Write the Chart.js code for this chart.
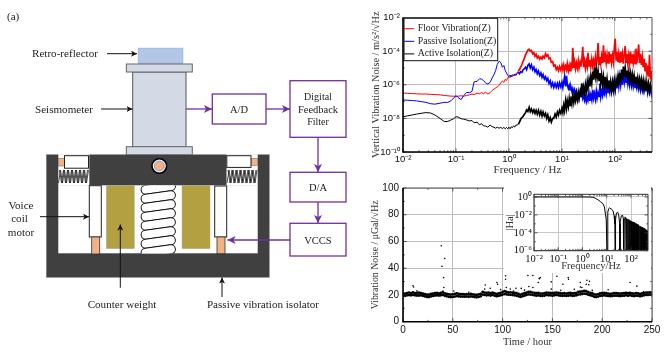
<!DOCTYPE html>
<html><head><meta charset="utf-8">
<script src="https://cdn.jsdelivr.net/npm/chart.js@4"></script>
<style>
html,body{margin:0;padding:0;background:#fff;overflow:hidden}
#stage{position:absolute;left:0;top:0;width:665px;height:357px;filter:blur(0.35px)}
canvas{position:absolute;display:block}
svg{position:absolute;left:0;top:0}
svg text{font-family:"Liberation Serif",serif;fill:#222}
</style></head><body>
<div id="stage">
<svg width="665" height="357" viewBox="0 0 665 357">
<defs>
<marker id="ak" markerWidth="7" markerHeight="7" refX="6" refY="3" orient="auto" markerUnits="userSpaceOnUse"><path d="M0,0 L6,3 L0,6 L1.5,3 Z" fill="#111"/></marker>
<marker id="ap" markerWidth="9" markerHeight="9" refX="8" refY="4" orient="auto" markerUnits="userSpaceOnUse"><path d="M0,0 L8,4 L0,8 L2,4 Z" fill="#7030a0"/></marker>
<clipPath id="coilclip"><rect x="138" y="185.5" width="40" height="68"/></clipPath>
</defs>
<text x="7" y="20" font-size="11">(a)</text>
<text x="357" y="20" font-size="11">(b)</text>
<text x="360" y="190" font-size="11">(c)</text>
<rect x="138.3" y="48.3" width="44.5" height="15" fill="#b3c6e7" stroke="#9db8e0"/>
<rect x="132.7" y="72" width="53.3" height="75" fill="#d3dae6" stroke="#555" stroke-width="1"/>
<rect x="126.3" y="64" width="66" height="8" fill="#d3dae6" stroke="#666"/>
<rect x="126.3" y="146.7" width="66" height="8" fill="#d3dae6" stroke="#666"/>
<rect x="46.3" y="154.7" width="223" height="122.6" fill="#404040" stroke="#888" stroke-width=".6"/>
<rect x="58.3" y="185.3" width="199.4" height="68" fill="#fff"/>
<rect x="58.3" y="154.2" width="31" height="31.5" fill="#fff"/>
<rect x="226.5" y="154.2" width="31.2" height="31.5" fill="#fff"/>
<rect x="58.3" y="158.3" width="6.3" height="7.7" fill="#f4b183" stroke="#666" stroke-width=".5"/>
<rect x="64.5" y="155.7" width="24" height="12.5" fill="#fff" stroke="#222"/>
<rect x="251" y="158.3" width="6.7" height="7.3" fill="#f4b183" stroke="#666" stroke-width=".5"/>
<rect x="226.8" y="155.7" width="24.2" height="11.7" fill="#fff" stroke="#222"/>
<g fill="none" stroke="#222" stroke-width=".8">
<path d="M58.5,183 L60.5,170 L62.5,183 L64.5,170 L66.5,183 L68.5,170 L70.5,183 L72.5,170 L74.5,183 L76.5,170 L78.5,183 L80.5,170 L82.5,183 L84.5,170 L86.5,183 L88.5,170"/>
<path d="M59.5,170 L61.5,183 L63.5,170 L65.5,183 L67.5,170 L69.5,183 L71.5,170 L73.5,183 L75.5,170 L77.5,183 L79.5,170 L81.5,183 L83.5,170 L85.5,183 L87.5,170"/>
<path d="M227,183 L229,170 L231,183 L233,170 L235,183 L237,170 L239,183 L241,170 L243,183 L245,170 L247,183 L249,170 L251,183 L253,170 L255,183 L257,170"/>
<path d="M228,170 L230,183 L232,170 L234,183 L236,170 L238,183 L240,170 L242,183 L244,170 L246,183 L248,170 L250,183 L252,170 L254,183 L256,170"/>
</g>
<rect x="106.3" y="185.3" width="28" height="63.4" fill="#b3a040" stroke="#aaa" stroke-width=".5"/>
<rect x="182" y="185.3" width="28" height="63.4" fill="#b3a040" stroke="#aaa" stroke-width=".5"/>
<g clip-path="url(#coilclip)" fill="#fff" stroke="#111" stroke-width="1">
<rect x="141" y="183.5" width="34.5" height="9" rx="4.5" transform="rotate(-8 158 188)"/>
<rect x="141" y="192.5" width="34.5" height="9" rx="4.5" transform="rotate(-8 158 197)"/>
<rect x="141" y="201.5" width="34.5" height="9" rx="4.5" transform="rotate(-8 158 206)"/>
<rect x="141" y="210.5" width="34.5" height="9" rx="4.5" transform="rotate(-8 158 215)"/>
<rect x="141" y="219.5" width="34.5" height="9" rx="4.5" transform="rotate(-8 158 224)"/>
<rect x="141" y="228.5" width="34.5" height="9" rx="4.5" transform="rotate(-8 158 233)"/>
<rect x="141" y="237.5" width="34.5" height="9" rx="4.5" transform="rotate(-8 158 242)"/>
<rect x="141" y="246.5" width="34.5" height="9" rx="4.5" transform="rotate(-8 158 251)"/>
</g>
<rect x="89.3" y="185.7" width="12" height="51.3" fill="#fff" stroke="#222" stroke-width="1"/>
<rect x="91.7" y="237" width="8" height="17" fill="#f4b183" stroke="#333" stroke-width=".8"/>
<rect x="214.7" y="186" width="12" height="51" fill="#fff" stroke="#222" stroke-width="1"/>
<rect x="217" y="237" width="8" height="16.7" fill="#f4b183" stroke="#333" stroke-width=".8"/>
<circle cx="159.3" cy="166" r="7.3" fill="#fff" stroke="#000" stroke-width="1.6"/>
<circle cx="159.3" cy="166" r="5" fill="#f4b183" stroke="#6f8fc8" stroke-width=".8"/>
<g fill="#fff" stroke="#7030a0" stroke-width="1.3">
<rect x="212.3" y="94" width="53.7" height="30"/>
<rect x="290" y="80.7" width="56" height="56.6"/>
<rect x="290" y="172.3" width="56" height="29.7"/>
<rect x="290" y="223.3" width="56" height="32.7"/>
</g>
<g fill="none" stroke="#7030a0" stroke-width="1.3" marker-end="url(#ap)">
<path d="M186,109 H212"/><path d="M266,109 H290"/><path d="M318,137.3 V172"/><path d="M318,202 V223"/><path d="M290,240 H227.5"/>
</g>
<g fill="none" stroke="#111" stroke-width="1" marker-end="url(#ak)">
<path d="M107,53.7 H137"/><path d="M101,109 H132.5"/><path d="M40,216.7 H89"/><path d="M120.3,287.7 V224.5"/><path d="M222,297 V277.5"/>
</g>
<g font-size="11.1">
<text x="32" y="56.5">Retro-reflector</text>
<text x="35" y="113">Seismometer</text>
<text x="21" y="209" text-anchor="middle">Voice</text>
<text x="19.5" y="222" text-anchor="middle">coil</text>
<text x="21" y="236" text-anchor="middle">motor</text>
<text x="122" y="308" text-anchor="middle">Counter weight</text>
<text x="263" y="308" text-anchor="middle">Passive vibration isolator</text>
<text x="239" y="113" text-anchor="middle" font-size="10.5">A/D</text>
<text x="318" y="100" text-anchor="middle" font-size="10">Digital</text>
<text x="318" y="113" text-anchor="middle" font-size="10.5">Feedback</text>
<text x="318" y="125" text-anchor="middle" font-size="10">Filter</text>
<text x="318" y="191" text-anchor="middle" font-size="10.5">D/A</text>
<text x="318" y="244" text-anchor="middle" font-size="10.5">VCCS</text>
</g>
</svg>
<canvas id="pb" width="315" height="178" style="left:350px;top:0"></canvas>
<canvas id="pc" width="315" height="179" style="left:350px;top:178px"></canvas>
<canvas id="pi" width="147" height="87" style="left:504px;top:186px"></canvas>
</div>
<script>
const freq=[
0.01,0.012,0.015,0.018,0.022,0.027,0.033,0.04,0.05,0.06,
0.07,0.08,0.09,0.1,0.11,0.125,0.14,0.16,0.18,0.2,
0.22,0.25,0.28,0.3,0.33,0.36,0.4,0.44,0.48,0.52,
0.56,0.6,0.65,0.7,0.75,0.8,0.85,0.9,0.95,1,
1.05,1.1,1.16,1.22,1.28,1.35,1.42,1.5,1.58,1.66,
1.75,1.84,1.94,2.05,2.15,2.27,2.4,2.52,2.65,2.8,
2.95,3.1,3.25,3.42,3.6,3.8,4,4.2,4.4,4.65,
4.9,5.15,5.4,5.7,6,6.3,6.65,7,7.4,7.8,
8.2,8.6,9,9.5,10,10.4,10.8,11.2,11.7,12.2,
12.6,13.2,13.7,14.2,14.8,15.4,16,16.7,17.3,18,
18.7,19.5,20.3,21,22,22.8,23.7,24.7,25.6,26.7,
27.7,28.8,30,31,32.4,33.7,35,36.5,38,39.4,
41,42.7,44.4,46,48,50,52,54,56,58.4,
60.7,63,65.7,68.3,71,74,77,80,83,86.3,
90,93.4,97,101,105,109,114,118,123,128,
133,138,144,150,156,162,168,175,182,189,
197,205,213,221,230,239,249,259,269,280,
291,303,315,328,341,354,369,383,399,415,
431,449,467,486,500];
const floorVibration=[
3.2e-7,3.1e-7,3e-7,2.9e-7,2.8e-7,2.8e-7,2.7e-7,2.6e-7,2.5e-7,2.3e-7,
2.2e-7,2.1e-7,2.1e-7,2e-7,2.1e-7,2.2e-7,2.1e-7,2.3e-7,2.5e-7,2.8e-7,
2.6e-7,3.2e-7,2.8e-7,3.5e-7,2.9e-7,3.6e-7,2.8e-7,3.4e-7,4.5e-7,5.5e-7,
6.5e-7,7.5e-7,9e-7,1.3e-6,1.7e-6,1.4e-6,2.1e-6,1.8e-6,2.7e-6,3e-6,
2.6e-6,3.6e-6,3e-6,4e-6,3.4e-6,4.6e-6,5e-6,6.5e-6,8e-6,1.1e-5,
1.6e-5,2.4e-5,3.6e-5,6e-5,8e-5,1.15e-4,1.3e-4,1e-4,1.1e-4,7e-5,
8e-5,5e-5,6.5e-5,4e-5,5e-5,3.4e-5,4.5e-5,3.5e-5,5e-5,4e-5,
7e-5,5e-5,6e-5,3.5e-5,3.8e-5,2.2e-5,2.4e-5,1.3e-5,1.5e-5,8e-6,
1.1e-5,7e-6,1.2e-5,7.5e-6,1.4e-5,7.5e-6,1.5e-5,8e-6,1.3e-5,8e-6,
1.8e-5,7e-6,1.4e-5,7e-6,2.2e-5,9e-6,1.6e-4,1e-5,2.2e-5,9e-6,
2e-5,1e-5,2.6e-5,1e-5,2.2e-5,1.2e-5,3e-5,1.8e-4,1.1e-5,2.6e-5,
1e-5,2.5e-5,1.2e-5,8e-5,1.3e-5,3e-5,1.2e-5,3.5e-5,1.3e-5,2.8e-5,
1.4e-5,4.5e-5,1.5e-5,3.2e-5,3e-4,1.6e-5,4.5e-5,1.8e-5,5e-5,2e-5,
2.2e-4,2.2e-5,5.5e-5,2e-5,6e-5,2e-5,9e-5,2.2e-5,7e-5,2e-5,
5.5e-5,2.4e-5,1.4e-4,5.5e-4,3e-5,9e-5,2.2e-5,6.5e-5,2e-5,9e-5,
2.2e-5,6.5e-5,1.8e-5,7e-5,2e-4,2.2e-5,7e-5,1.8e-5,5.5e-5,2e-5,
9e-5,1.8e-5,6.5e-5,2e-5,5.5e-5,1.8e-5,1.4e-4,2e-5,6.5e-5,2.5e-4,
2e-5,7e-5,1.5e-5,4.5e-5,1.1e-5,3.5e-5,7e-6,2e-5,5e-6,1.4e-5,
3e-6,6e-5,2e-6,7e-6,1.4e-6];
const passiveIsolation=[
1.25e-7,1.2e-7,1.15e-7,1.1e-7,1e-7,9e-8,7.5e-8,7e-8,8e-8,9e-8,
9e-8,1.1e-7,1.6e-7,2.3e-7,1.7e-7,1.3e-7,2.3e-7,3.5e-7,3.4e-7,4e-7,
1.5e-6,1.6e-6,2.3e-6,2.2e-6,1.8e-6,1.3e-6,1.1e-6,1.4e-6,2.5e-6,4e-6,
7e-6,1.6e-5,2.5e-5,2.1e-5,1.1e-5,1.4e-5,7e-6,5e-6,3.5e-6,3e-6,
3.8e-6,3e-6,4e-6,3.4e-6,4.4e-6,3.6e-6,4.5e-6,5.5e-6,4.5e-6,6e-6,
5.5e-6,7.5e-6,9e-6,1.1e-5,8e-6,1.4e-5,1.7e-5,1e-5,1.5e-5,8e-6,
1.1e-5,6e-6,8e-6,4.5e-6,6.5e-6,3.5e-6,5e-6,2.8e-6,4e-6,2.2e-6,
3e-6,1.8e-6,2.4e-6,1.2e-6,1.7e-6,8e-7,1.3e-6,7e-7,1.2e-6,7e-7,
1.2e-6,7e-7,1.3e-6,7.5e-7,1.4e-6,7e-7,1.5e-6,3e-6,8e-7,3.4e-6,
1e-6,6e-7,9e-7,5e-7,7e-7,4e-7,6e-7,3.5e-7,5e-7,2.5e-7,
4e-7,2e-7,3e-7,1.5e-7,3.5e-7,1.8e-7,4e-7,1.6e-7,2.5e-7,1.2e-7,
2e-7,1e-7,1.8e-7,1.2e-7,3e-7,1.1e-7,2.5e-7,1.3e-7,5e-7,1.6e-7,
3e-7,1.4e-7,4e-7,1.6e-7,3.5e-7,2e-7,1.2e-6,2e-7,4e-7,2.2e-7,
5e-7,3e-7,7e-7,3e-7,8e-7,3.5e-7,9e-7,4e-7,1e-6,4e-7,
1.2e-6,4e-7,1.5e-6,5e-7,1.3e-6,6e-7,2e-6,8e-7,3e-6,1e-6,
3.5e-6,1e-6,4e-6,1.5e-6,5e-6,1.4e-6,4e-6,1.2e-6,3e-6,1e-6,
2.5e-6,9e-7,2e-6,8e-7,1.8e-6,7e-7,1.6e-6,7e-7,1.5e-6,6e-7,
1.3e-6,5e-7,1.2e-6,5e-7,1.1e-6,4.5e-7,1e-6,4e-7,9e-7,3.5e-7,
8e-7,3.5e-7,7e-7,3e-7,6e-7];
const activeIsolation=[
1.25e-8,1.4e-8,1.6e-8,1.8e-8,2e-8,2.2e-8,2.1e-8,1.6e-8,1e-8,6.5e-9,
6.5e-9,8e-9,9.5e-9,1.25e-8,1.2e-8,9.5e-9,9e-9,8e-9,7e-9,7.5e-9,
5.5e-9,6e-9,4e-9,5e-9,3.6e-9,3.5e-9,3e-9,4e-9,3.2e-9,3e-9,
2.6e-9,3e-9,2.6e-9,2.9e-9,2.5e-9,2.9e-9,2.4e-9,2.9e-9,2.4e-9,3e-9,
2.4e-9,3.2e-9,2.8e-9,3.6e-9,3e-9,4e-9,4e-9,4.5e-9,6e-9,9e-9,
1.1e-8,1.3e-8,1.7e-8,2.2e-8,3.2e-8,2.6e-8,4.5e-8,2.5e-8,3.6e-8,2.2e-8,
3.2e-8,2e-8,3e-8,1.8e-8,3e-8,1.6e-8,2.6e-8,1.4e-8,2.4e-8,1.4e-8,
2e-8,1e-8,1.6e-8,7e-9,1.1e-8,6e-9,1e-8,1e-8,1.8e-8,1.2e-8,
2.4e-8,1.6e-8,3e-8,2e-8,4e-8,2.2e-8,6e-8,3e-8,1.1e-7,4e-8,
1.1e-7,5e-8,1.5e-7,6e-8,2e-7,8e-8,2.5e-7,9e-8,2e-7,1.1e-7,
3e-7,1.3e-7,3.5e-7,1.6e-7,4e-7,2e-7,1.2e-6,2.5e-7,7e-7,3e-7,
1e-6,4e-7,1.5e-6,6e-7,2e-6,8e-7,3e-6,1.2e-6,6e-6,2e-6,
1.1e-5,3e-6,8e-6,2.5e-6,7e-6,1.8e-6,5e-6,1.4e-6,4e-6,1e-6,
3e-6,9e-7,3e-6,7e-7,2.2e-6,6e-7,1.8e-6,6e-7,1.5e-6,5e-7,
1.4e-6,5e-7,1.6e-6,6e-7,2e-6,8e-7,3e-6,1e-6,5e-6,1.4e-6,
8e-6,2e-6,1.2e-5,3e-6,1e-5,3e-6,7e-6,2.5e-6,6e-6,2e-6,
5e-6,1.6e-6,4e-6,1.5e-6,3.5e-6,1.2e-6,3e-6,1.1e-6,2.6e-6,1e-6,
2.2e-6,8e-7,2e-6,7e-7,1.8e-6,6e-7,1.5e-6,5e-7,1.3e-6,5e-7,
1.2e-6,4.5e-7,1e-6,4.5e-7,9e-7];
const seriesNames=['Floor Vibration(Z)','Passive Isolation(Z)','Active Isolation(Z)'];
const decadeTicks=[0.01,0.1,1,10,100];
const decadeTickLabels=['10\u207b\u00b2','10\u207b\u00b9','10\u2070','10\u00b9','10\u00b2'];
const psdTicks=[1e-10,1e-8,1e-6,1e-4,1e-2];
const psdTickLabels=['10\u207b\u00b9\u2070','10\u207b\u2078','10\u207b\u2076','10\u207b\u2074','10\u207b\u00b2'];

const hours=[
0,2,4,6,8,10,12,14,16,18,20,22,24,26,28,30,32,34,36,38,
40,42,44,46,48,50,52,54,56,58,60,62,64,66,68,70,72,74,76,78,
80,82,84,86,88,90,92,94,96,98,100,102,104,106,108,110,112,114,116,118,
120,122,124,126,128,130,132,134,136,138,140,142,144,146,148,150,152,154,156,158,
160,162,164,166,168,170,172,174,176,178,180,182,184,186,188,190,192,194,196,198,
200,202,204,206,208,210,212,214,216,218,220,222,224,226,228,230,232,234,236,238,
240,242,244,246,248,250];
const noiseHigh=[
20.8,21,21.4,21.8,21.4,21.9,21.4,21.6,21.7,21.4,21,20.6,20.2,20.2,20.7,21,21.3,21.5,21.2,21.6,
21.9,21.2,20.8,20.4,20.3,20.5,20.8,21.2,20.7,20.6,20.6,20.4,20.6,20.4,20.8,20.4,20.2,20,20.4,20.8,
22.2,21.8,21.5,21.8,21.3,21.8,21.2,20.8,21.2,21.6,22.3,22.8,22.3,22,22,21.7,21.5,21.3,20.8,20.2,
20.8,21.3,21.8,22.2,22.2,21.8,21.6,21.3,21.6,21,21,21.3,21.8,21.6,21.5,21.3,21.6,21.8,21.5,21.3,
21.2,21.3,21,21.3,21.5,21.2,21.3,21.6,22.2,22.4,22.6,23,22.8,22.1,21.6,21.3,20.4,20.2,20.6,21.2,
21.3,21.6,21.3,21,20.8,21,21.3,21.3,21.2,21,21.2,21.3,21.5,21.3,21.5,21.2,21,21.3,21.2,20.8,
21.2,21.6,21.8,21.8,22,21.6];
const noiseLow=[
19.2,19.4,19.7,19.9,19.8,20,19.8,19.6,19.6,19.7,19.4,18.9,18.5,18.4,18.9,19.3,19.6,19.8,19.6,19.8,
20,19.4,19,18.6,18.4,18.5,18.8,19.2,18.9,18.8,18.8,18.7,18.8,18.6,18.9,18.7,18.4,18.2,18.6,19,
20.2,20,19.7,19.9,19.6,20,19.5,19.1,19.4,19.8,20.3,20.7,20.4,20.2,20.1,19.9,19.7,19.5,19,18.5,
19,19.5,20,20.4,20.3,20,19.8,19.5,19.7,19.3,19.3,19.5,20,19.8,19.7,19.5,19.8,20,19.7,19.5,
19.4,19.5,19.3,19.5,19.7,19.4,19.5,19.8,20.3,20.5,20.7,21,20.8,20.2,19.8,19.4,18.6,18.4,18.8,19.4,
19.5,19.8,19.5,19.3,19.1,19.2,19.5,19.5,19.4,19.2,19.4,19.5,19.7,19.5,19.7,19.4,19.2,19.5,19.4,19,
19.4,19.8,20,20,20.2,19.8];
const outlierHours=[10,10.7,38.5,39.1,41.8,40.8,41,40.2,51,82.6,82,87.6,94.3,95,103,103,103.7,107.7,111,113.4,118.7,125.4,130.4,126.4,130.4,136.8,135.8,137.8,148.8,148.8,154.5,160.5,165.9,166.2,178,178,179.6,184.6,187.2,184,186.5,206,228,234.8,241.5,158.5,14,66,98,122,172,190];
const outlierNoise=[26.8,26,56.8,41.5,47.3,33,25.6,23,23,27.5,24.4,25,29.3,28,34.4,31.7,25.6,24.4,23,25,24.9,34.6,34.6,26.3,25.6,32.2,29.3,33,29.8,24.4,34,28,33,31.7,29.3,26,25.6,31,30.2,28,27.6,23.9,29.3,26.6,22.4,23.5,23.2,22,24,23.6,24.2,23.4];
const timeTicks=[0,50,100,150,200,250];
const noiseTicks=[0,20,40,60,80,100];

const haFreq=[0.01,0.1,1,2,2.6,3.2,4.3,5.5,6.9,8,8.8,9.5,10.3,
11,12,13,15,18,20,21.5,22,23,25,28,31,34,35,36,40,45,48,50,
52,56,60,62,66,70,74,78,82,86,90,94,98,102,
106,110,115,120,125,130,135,140,145,150,155,160,165,170,175,180,185,190,195,200,
210,220,230,240,250,260,270,280,290,300,310,320,330,340,350,360,370,380,390,400,
410,420,430,440,450,460,470,480,490,500];
const haGain=[1,1,1,0.98,0.92,0.8,0.5,0.3,0.18,0.08,0.012,0.003,1e-7,
0.02,0.05,0.06,0.048,0.03,0.008,0.001,1e-7,0.003,0.016,0.02,0.01,0.001,1e-7,0.002,0.008,0.0089,0.004,1e-7,
0.003,0.006,0.005,1e-7,0.004,1e-7,0.0034,1e-7,0.003,1e-7,0.0025,1e-7,0.0021,1e-7,
0.0019,1e-7,0.0017,1e-7,0.0015,1e-7,0.0014,1e-7,0.0012,1e-7,0.0011,1e-7,0.001,1e-7,0.00092,1e-7,0.00085,1e-7,0.00078,1e-7,
0.00067,1e-7,0.00058,1e-7,0.00051,1e-7,0.00045,1e-7,0.0004,1e-7,0.00036,1e-7,0.00033,1e-7,0.0003,1e-7,0.00027,1e-7,0.00025,1e-7,
0.00023,1e-7,0.00021,1e-7,0.00019,1e-7,0.00017,1e-7,0.00015,0.00013];
const haTicks=[1e-6,1e-4,1e-2,1];
const haTickLabels=['10\u207b\u2076','10\u207b\u2074','10\u207b\u00b2','10\u2070'];

const SERIF='"Liberation Serif",serif', SANS='"Liberation Sans",sans-serif';
const pairs=(xs,ys)=>xs.map((x,i)=>({x,y:ys[i]}));
const logMinor=(lo,hi)=>{const o=[];for(let d=Math.floor(Math.log10(lo));d<=Math.ceil(Math.log10(hi));d++)for(let m=2;m<10;m++){const v=m*Math.pow(10,d);if(v>lo&&v<hi)o.push(v);}return o;};
const framePlugin={id:'frame',afterDatasetsDraw(c,a,o){
  const {ctx,chartArea:r,scales:{x,y}}=c;
  ctx.save();
  const tx=(v,l)=>{const p=x.getPixelForValue(v);ctx.beginPath();ctx.moveTo(p,r.bottom);ctx.lineTo(p,r.bottom-l);ctx.moveTo(p,r.top);ctx.lineTo(p,r.top+l);ctx.stroke();};
  const ty=(v,l)=>{const p=y.getPixelForValue(v);ctx.beginPath();ctx.moveTo(r.left,p);ctx.lineTo(r.left+l,p);ctx.moveTo(r.right,p);ctx.lineTo(r.right-l,p);ctx.stroke();};
  ctx.strokeStyle='#333';ctx.lineWidth=.8;
  (o.xMajor||[]).forEach(v=>tx(v,3.5));(o.xMinor||[]).forEach(v=>tx(v,1.8));
  (o.yMajor||[]).forEach(v=>ty(v,3.5));(o.yMinor||[]).forEach(v=>ty(v,1.8));
  ctx.strokeStyle=o.edge||'#555';ctx.lineWidth=1;
  ctx.beginPath();ctx.moveTo(r.left,r.top);ctx.lineTo(r.right,r.top);ctx.lineTo(r.right,r.bottom);ctx.stroke();
  ctx.strokeStyle=o.axis||'#000';ctx.lineWidth=o.axisWidth||1.6;
  ctx.beginPath();ctx.moveTo(r.left,r.top);ctx.lineTo(r.left,r.bottom);ctx.lineTo(r.right,r.bottom);ctx.stroke();
  ctx.restore();
}};
const legendBox={id:'legendBox',
  afterLayout(c){const l=c.legend;if(!l)return;const h=l.height;l.left=53;l.right=l.left+l.width;l.top=21;l.bottom=l.top+h;l.adjustHitBoxes();},
  afterDatasetsDraw(c){
  const l=c.legend;if(!l||!l.legendHitBoxes.length)return;
  const {ctx}=c,T=18.3,L=54,R=147.7,B=60.7;
  ctx.save();ctx.fillStyle='#fff';ctx.fillRect(L,T,R-L,B-T);ctx.strokeStyle='#111';ctx.lineWidth=1;ctx.strokeRect(L,T,R-L,B-T);ctx.restore();
  l.draw();
}};
const whiteBg={id:'whiteBg',beforeDraw(c){c.ctx.save();c.ctx.fillStyle='#fff';c.ctx.fillRect(0,0,c.width,c.height);c.ctx.restore();}};
function axis(o){
  return Object.assign({
    type:o.type,min:o.min,max:o.max,
    afterBuildTicks:s=>{s.ticks=o.vals.map(v=>({value:v,major:true}));},
    afterFit:s=>{if(o.w!=null)s.width=o.w;if(o.h!=null)s.height=o.h;},
    grid:{color:o.grid,lineWidth:1,drawTicks:false,z:-1},
    border:{display:false},
    ticks:{autoSkip:false,maxRotation:0,minRotation:0,padding:o.pad,color:'#111',font:{family:o.font||SANS,size:o.size||9.5},
      callback:v=>{const i=o.vals.indexOf(v);return i<0?'':(o.labels?o.labels[i]:String(v));}},
    title:{display:true,text:o.title,color:'#333',font:{family:SERIF,size:o.tsize||11},padding:o.tpad}
  });
}
new Chart(document.getElementById('pb'),{type:'scatter',
  data:{datasets:[
    {label:seriesNames[0],data:pairs(freq,floorVibration),borderColor:'#ff0000',order:3},
    {label:seriesNames[1],data:pairs(freq,passiveIsolation),borderColor:'#0000ff',order:2},
    {label:seriesNames[2],data:pairs(freq,activeIsolation),borderColor:'#000000',order:1}
  ].map(d=>Object.assign(d,{showLine:true,borderWidth:1,pointRadius:0,backgroundColor:d.borderColor,tension:0,
     segment:{borderWidth:s=>s.p0.parsed.x>=1.5?1.7:1}}))},
  plugins:[whiteBg,framePlugin,legendBox],
  options:{responsive:false,animation:false,events:[],
    layout:{padding:{top:17.5,right:13,left:0,bottom:0}},
    scales:{
      x:axis({type:'logarithmic',min:0.01,max:500,vals:decadeTicks,labels:decadeTickLabels,grid:'#bdbdbd',pad:2,h:26,title:'Frequency / Hz',tpad:{top:0,bottom:1},tsize:11}),
      y:axis({type:'logarithmic',min:1e-10,max:1e-2,vals:psdTicks,labels:psdTickLabels,grid:'#bdbdbd',pad:3,w:53,title:'Vertical Vibration Noise / m/s\u00b2/\u221aHz',tpad:{top:20,bottom:0},tsize:10.3})
    },
    plugins:{legend:{position:'chartArea',align:'start',
        labels:{usePointStyle:true,pointStyle:'line',boxWidth:7,boxHeight:7,padding:2.8,color:'#222',font:{family:SERIF,size:9.8},
          sort:(a,b)=>a.datasetIndex-b.datasetIndex}},
      title:{display:false},tooltip:{enabled:false},
      frame:{xMajor:decadeTicks,xMinor:logMinor(0.01,500),yMajor:psdTicks,yMinor:[1e-9,1e-7,1e-5,1e-3]}}
  }});
new Chart(document.getElementById('pc'),{type:'scatter',
  data:{datasets:[
    {label:'Upper band',data:pairs(hours,noiseHigh)},
    {label:'Lower band',data:pairs(hours,noiseLow)},
    {label:'Excursions',data:pairs(outlierHours,outlierNoise),pointRadius:.8}
  ].map(d=>Object.assign({pointRadius:1.4,borderWidth:0,backgroundColor:'#000',pointBorderWidth:0},d))},
  plugins:[whiteBg,framePlugin],
  options:{responsive:false,animation:false,events:[],
    layout:{padding:{top:7,right:13,left:0,bottom:0}},
    scales:{
      x:axis({type:'linear',min:0,max:250,vals:timeTicks,grid:'#bdbdbd',pad:3,h:35.3,size:10,title:'Time / hour',tpad:{top:0,bottom:8},tsize:10.5}),
      y:axis({type:'linear',min:0,max:100,vals:noiseTicks,grid:'#bdbdbd',pad:4,w:53,size:10,title:'Vibration Noise / \u03bcGal/\u221aHz',tpad:{top:20,bottom:0},tsize:9.8})
    },
    plugins:{legend:{display:false},tooltip:{enabled:false},
      frame:{xMajor:timeTicks,xMinor:[25,75,125,175,225],yMajor:noiseTicks,yMinor:[10,30,50,70,90]}}
  }});
new Chart(document.getElementById('pi'),{type:'scatter',
  data:{datasets:[{label:'|Ha|',data:pairs(haFreq,haGain),showLine:true,borderColor:'#000',borderWidth:1,pointRadius:0,tension:0}]},
  plugins:[whiteBg,framePlugin],
  options:{responsive:false,animation:false,events:[],
    layout:{padding:{top:1.3,right:3,left:0,bottom:0}},
    scales:{
      x:axis({type:'logarithmic',min:0.01,max:500,vals:decadeTicks,labels:decadeTickLabels,grid:'#c8c8c8',pad:2,h:22.3,font:SERIF,size:10.5,title:'Frequency/Hz',tpad:{top:0,bottom:0},tsize:10.5}),
      y:axis({type:'logarithmic',min:1e-6,max:2,vals:haTicks,labels:haTickLabels,grid:'#c8c8c8',pad:2,w:30,font:SERIF,size:10.5,title:'|Ha|',tpad:{top:0,bottom:0},tsize:10.5})
    },
    plugins:{legend:{display:false},tooltip:{enabled:false},
      frame:{edge:'#333',axis:'#444',axisWidth:1.2,xMajor:decadeTicks,xMinor:logMinor(0.01,500),yMajor:haTicks,yMinor:[1e-5,1e-3,1e-1]}}
  }});
</script>
</body></html>
